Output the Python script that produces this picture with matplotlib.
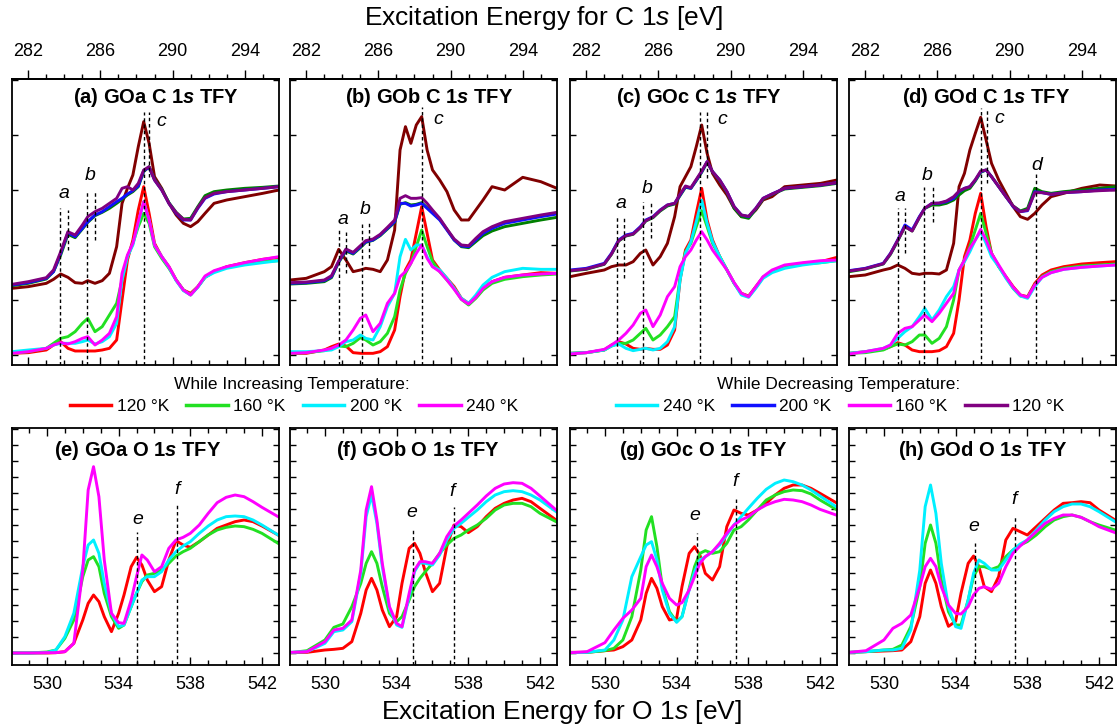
import matplotlib
matplotlib.use('Agg')
import matplotlib.pyplot as plt
from matplotlib.lines import Line2D
from matplotlib.ticker import MultipleLocator, FixedLocator

plt.rcParams['font.family'] = ['Liberation Sans', 'DejaVu Sans']
# $s$ -> bold italic (panel titles), $\mathsf{s}$ -> plain italic (axis titles)
plt.rcParams['mathtext.fontset'] = 'custom'
plt.rcParams['mathtext.rm'] = 'Liberation Sans'
plt.rcParams['mathtext.it'] = 'Liberation Sans:italic:bold'
plt.rcParams['mathtext.sf'] = 'Liberation Sans:italic'
plt.rcParams['mathtext.bf'] = 'Liberation Sans:bold'
plt.rcParams['lines.solid_joinstyle'] = 'round'

# ---------------- C 1s TFY spectra (arb. units) ----------------
E_C = [281.1, 282.0, 283.0, 283.4, 283.8, 284.2, 284.6, 285.0, 285.3, 285.7, 286.1,
       286.5, 286.9, 287.2, 287.5, 287.8, 288.1, 288.4, 288.7, 289.0, 289.4, 289.8,
       290.2, 290.6, 291.0, 291.4, 291.8, 292.3, 293.0, 294.0, 295.0, 295.9]

# GOa
a_red = [5, 7, 15, 30, 40, 20, 12, 12, 12, 12, 15, 20, 45, 165, 285, 345, 435, 505, 425, 335, 295, 265, 225, 195, 185, 205, 233, 250, 265, 277, 287, 293]
a_green = [5, 10, 20, 35, 50, 55, 70, 95, 110, 70, 85, 120, 155, 225, 295, 335, 385, 425, 395, 325, 290, 260, 225, 195, 180, 205, 233, 250, 263, 273, 280, 283]
a_cyan = [10, 15, 20, 30, 35, 35, 35, 40, 45, 33, 40, 55, 95, 225, 295, 330, 395, 460, 405, 330, 295, 263, 223, 193, 180, 203, 233, 247, 260, 270, 277, 283]
a_mag = [5, 10, 20, 30, 37, 33, 40, 50, 55, 30, 45, 65, 115, 245, 300, 335, 400, 460, 405, 330, 295, 265, 225, 195, 180, 205, 237, 253, 265, 277, 287, 295]
a_blue = [210, 217, 230, 250, 305, 367, 355, 380, 400, 420, 430, 445, 460, 470, 483, 493, 507, 553, 563, 525, 495, 455, 425, 405, 405, 440, 470, 483, 490, 495, 500, 505]
a_dgreen = [208, 215, 228, 250, 300, 362, 352, 378, 398, 418, 428, 440, 455, 467, 480, 490, 505, 550, 565, 527, 497, 457, 428, 408, 410, 445, 478, 490, 495, 500, 503, 507]
a_purple = [212, 220, 232, 255, 310, 370, 360, 390, 415, 430, 440, 455, 470, 500, 505, 495, 515, 555, 565, 525, 495, 455, 427, 407, 405, 442, 472, 485, 490, 495, 500, 505]
a_maroon = [200, 205, 215, 227, 243, 233, 217, 215, 223, 215, 223, 245, 325, 455, 500, 540, 625, 700, 635, 535, 500, 455, 420, 395, 385, 400, 425, 455, 465, 475, 485, 495]

# GOb
b_red = [5, 5, 15, 25, 33, 27, 7, 5, 5, 5, 10, 25, 75, 175, 255, 285, 365, 445, 365, 285, 255, 230, 205, 170, 155, 175, 200, 220, 233, 240, 247, 245]
b_green = [5, 7, 13, 20, 27, 25, 35, 52, 45, 30, 40, 65, 115, 195, 245, 275, 325, 375, 325, 280, 250, 225, 200, 167, 150, 170, 195, 215, 227, 235, 240, 243]
b_cyan = [10, 10, 13, 15, 25, 40, 45, 60, 50, 45, 85, 145, 185, 295, 347, 315, 330, 330, 295, 265, 255, 230, 200, 170, 155, 180, 210, 233, 250, 260, 257, 257]
b_mag = [5, 7, 15, 20, 30, 45, 75, 110, 120, 70, 95, 155, 185, 235, 250, 275, 305, 330, 290, 265, 250, 225, 197, 167, 153, 173, 200, 220, 233, 240, 243, 245]
b_blue = [215, 217, 223, 235, 280, 315, 305, 325, 340, 345, 360, 380, 400, 455, 455, 447, 450, 455, 440, 425, 405, 375, 345, 327, 325, 345, 365, 380, 395, 405, 415, 423]
b_dgreen = [213, 215, 220, 232, 278, 312, 303, 322, 338, 344, 358, 378, 398, 452, 457, 450, 452, 457, 442, 427, 407, 377, 345, 325, 322, 340, 358, 372, 385, 395, 405, 413]
b_purple = [217, 219, 225, 238, 282, 318, 308, 328, 343, 348, 362, 383, 405, 470, 478, 470, 470, 472, 455, 435, 410, 378, 348, 330, 328, 350, 370, 385, 400, 410, 420, 428]
b_maroon = [225, 230, 250, 265, 317, 285, 250, 255, 260, 257, 250, 285, 375, 615, 685, 635, 690, 715, 615, 555, 525, 490, 435, 405, 405, 435, 465, 505, 495, 533, 520, 500]

# GOc
c_red = [5, 7, 15, 30, 40, 33, 20, 17, 20, 17, 17, 30, 75, 225, 315, 345, 425, 500, 405, 345, 295, 255, 215, 185, 177, 205, 233, 250, 265, 275, 280, 293]
c_green = [5, 7, 15, 27, 35, 35, 45, 65, 80, 45, 60, 85, 115, 230, 310, 335, 385, 433, 385, 335, 295, 255, 215, 183, 175, 203, 233, 250, 265, 273, 277, 283]
c_cyan = [5, 7, 15, 27, 33, 20, 13, 17, 20, 15, 20, 40, 85, 225, 305, 340, 400, 465, 395, 340, 295, 255, 215, 180, 173, 200, 230, 247, 260, 270, 277, 283]
c_mag = [3, 7, 17, 30, 45, 65, 90, 125, 135, 85, 120, 175, 205, 265, 295, 315, 345, 370, 345, 315, 285, 255, 217, 185, 175, 205, 235, 255, 270, 277, 283, 285]
c_blue = [255, 260, 275, 305, 345, 360, 365, 385, 405, 415, 435, 450, 455, 480, 505, 500, 525, 550, 580, 550, 525, 490, 445, 420, 415, 440, 470, 483, 500, 505, 510, 517]
c_dgreen = [252, 257, 272, 302, 342, 357, 362, 382, 402, 412, 432, 447, 453, 478, 503, 500, 523, 548, 578, 550, 523, 488, 440, 415, 410, 437, 468, 482, 498, 503, 508, 515]
c_purple = [253, 258, 273, 303, 343, 358, 363, 383, 403, 414, 434, 450, 455, 482, 507, 502, 527, 552, 580, 550, 525, 490, 445, 420, 416, 440, 470, 483, 500, 505, 510, 517]
c_maroon = [235, 245, 255, 265, 270, 270, 280, 305, 315, 270, 295, 335, 415, 505, 535, 565, 625, 690, 605, 545, 510, 480, 440, 415, 415, 435, 465, 475, 505, 510, 515, 525]

# GOd
d_red = [5, 10, 17, 25, 37, 30, 15, 10, 10, 10, 13, 25, 65, 165, 295, 345, 425, 485, 385, 305, 265, 235, 205, 180, 175, 215, 240, 255, 265, 273, 277, 280]
d_green = [5, 7, 15, 25, 33, 30, 40, 60, 60, 35, 50, 85, 165, 255, 285, 325, 375, 425, 365, 305, 265, 233, 200, 177, 173, 210, 235, 250, 260, 267, 270, 273]
d_cyan = [5, 10, 20, 30, 50, 70, 85, 115, 140, 105, 135, 175, 205, 255, 280, 310, 345, 370, 335, 295, 265, 230, 200, 177, 170, 205, 233, 247, 257, 263, 267, 270]
d_mag = [3, 10, 20, 30, 65, 80, 85, 105, 120, 100, 125, 155, 185, 255, 285, 320, 345, 377, 345, 305, 270, 235, 203, 180, 173, 210, 233, 247, 257, 263, 267, 270]
d_blue = [253, 260, 275, 305, 345, 390, 375, 415, 440, 455, 455, 460, 470, 490, 500, 505, 525, 550, 555, 535, 505, 475, 445, 430, 433, 490, 487, 482, 487, 490, 495, 497]
d_dgreen = [250, 258, 273, 302, 342, 385, 372, 412, 440, 450, 450, 455, 465, 480, 493, 500, 522, 548, 555, 535, 505, 475, 447, 432, 440, 500, 490, 485, 490, 495, 500, 505]
d_purple = [252, 259, 274, 304, 344, 385, 372, 413, 440, 455, 456, 462, 475, 492, 500, 505, 526, 552, 555, 535, 505, 475, 447, 430, 435, 487, 487, 482, 487, 490, 493, 495]
d_maroon = [235, 240, 255, 260, 270, 260, 245, 242, 245, 245, 243, 255, 335, 505, 545, 615, 665, 713, 645, 575, 525, 485, 445, 415, 407, 425, 450, 475, 485, 500, 510, 507]

# ---------------- O 1s TFY spectra (arb. units) ----------------
E_O = [528.1, 529.0, 530.0, 530.5, 531.0, 531.5, 532.0, 532.3, 532.6, 532.9, 533.2,
       533.6, 534.0, 534.3, 534.7, 535.0, 535.3, 535.6, 536.0, 536.4, 536.8, 537.2,
       537.6, 538.0, 538.5, 539.0, 539.5, 540.0, 540.5, 541.0, 541.5, 542.0, 542.9]

e_red = [0, 0, 0, 1, 4, 29, 99, 149, 174, 154, 109, 64, 119, 174, 259, 287, 264, 219, 184, 199, 279, 337, 324, 317, 334, 354, 374, 384, 394, 399, 394, 381, 354]
e_green = [0, 0, 3, 9, 44, 99, 229, 279, 289, 259, 179, 109, 74, 84, 139, 179, 214, 234, 239, 249, 269, 291, 304, 314, 334, 354, 369, 377, 381, 379, 371, 359, 329]
e_cyan = [0, 0, 1, 9, 49, 119, 259, 324, 339, 299, 209, 119, 79, 84, 139, 179, 219, 229, 229, 244, 279, 304, 321, 334, 359, 381, 399, 409, 411, 409, 399, 384, 354]
e_mag = [0, 0, 1, 1, 4, 29, 249, 489, 559, 469, 279, 119, 91, 89, 159, 229, 294, 279, 244, 259, 314, 339, 347, 359, 384, 419, 451, 467, 474, 469, 454, 437, 409]

f_red = [1, 2, 9, 11, 14, 34, 119, 189, 224, 189, 129, 79, 109, 209, 314, 329, 299, 244, 184, 209, 319, 384, 379, 361, 379, 409, 434, 449, 459, 464, 454, 434, 399]
f_green = [1, 7, 39, 77, 87, 139, 209, 269, 304, 269, 199, 119, 94, 109, 159, 199, 224, 244, 269, 299, 324, 344, 354, 369, 384, 404, 429, 444, 449, 449, 439, 419, 394]
f_cyan = [2, 4, 29, 64, 69, 94, 239, 409, 474, 389, 259, 134, 84, 77, 169, 244, 271, 269, 264, 294, 339, 374, 389, 407, 429, 454, 474, 484, 487, 484, 474, 459, 424]
f_mag = [2, 4, 34, 69, 74, 99, 249, 429, 499, 399, 269, 139, 89, 79, 179, 249, 274, 274, 269, 299, 349, 381, 399, 419, 444, 471, 494, 507, 511, 509, 494, 471, 429]

g_red = [2, 2, 7, 9, 19, 39, 99, 179, 224, 194, 139, 99, 104, 199, 299, 319, 294, 239, 219, 259, 379, 429, 419, 414, 429, 449, 474, 494, 504, 504, 494, 479, 451]
g_green = [1, 2, 7, 14, 39, 109, 249, 369, 409, 319, 199, 124, 94, 109, 194, 259, 299, 307, 299, 304, 329, 369, 379, 399, 429, 459, 474, 484, 489, 487, 477, 459, 431]
g_cyan = [1, 2, 9, 39, 99, 229, 289, 324, 334, 279, 189, 119, 92, 109, 189, 244, 279, 289, 304, 324, 354, 384, 409, 434, 464, 491, 509, 519, 514, 504, 489, 471, 439]
g_mag = [1, 4, 31, 69, 104, 129, 164, 259, 294, 259, 209, 164, 144, 151, 189, 229, 269, 289, 304, 329, 359, 384, 399, 409, 429, 444, 454, 461, 459, 454, 444, 431, 414]

h_red = [2, 4, 6, 7, 9, 34, 109, 209, 249, 209, 139, 80, 95, 179, 269, 291, 259, 199, 184, 229, 339, 374, 364, 354, 379, 404, 429, 449, 451, 454, 451, 429, 399]
h_green = [2, 4, 9, 11, 24, 79, 199, 329, 384, 329, 219, 124, 84, 84, 159, 229, 259, 259, 251, 259, 289, 309, 324, 334, 354, 379, 399, 409, 414, 407, 394, 384, 369]
h_cyan = [2, 4, 9, 9, 14, 69, 249, 439, 504, 419, 269, 139, 79, 74, 159, 239, 279, 269, 249, 249, 279, 309, 327, 339, 369, 399, 424, 439, 447, 447, 439, 424, 394]
h_mag = [2, 7, 39, 74, 89, 114, 199, 259, 284, 259, 199, 144, 119, 117, 139, 174, 194, 199, 191, 209, 259, 299, 321, 339, 364, 389, 404, 414, 414, 407, 394, 379, 361]

# peak markers: energy, top of dotted line, bottom of dotted line
a_marks = [(283.77, 440, -30), (284.19, 435, 315), (285.25, 490, -30), (285.71, 490, 345), (288.40, 730, -30), (288.71, 730, 535)]
b_marks = [(283.83, 375, -30), (284.19, 375, 245), (285.11, 400, -30), (285.50, 400, 290), (288.40, 745, -30)]
c_marks = [(283.72, 415, -30), (284.11, 415, 230), (285.17, 460, -30), (285.57, 460, 350), (288.31, 730, -30), (288.69, 730, 530)]
d_marks = [(283.79, 440, -30), (284.21, 440, 305), (285.27, 505, -30), (285.73, 505, 400), (288.41, 740, -30), (288.75, 740, 515), (291.47, 545, -30)]
e_marks = [(535.04, 364, -36), (537.26, 444, -36)]
f_marks = [(534.89, 374, -36), (537.20, 437, -36)]
g_marks = [(535.12, 359, -36), (537.32, 469, -36)]
h_marks = [(535.10, 329, -36), (537.33, 414, -36)]

a_letters = [('a', 283.99, 485), ('b', 285.43, 540), ('c', 289.36, 700)]
b_letters = [('a', 284.06, 405), ('b', 285.26, 435), ('c', 289.33, 705)]
c_letters = [('a', 283.91, 455), ('b', 285.35, 500), ('c', 289.52, 705)]
d_letters = [('a', 283.93, 475), ('b', 285.45, 540), ('c', 289.43, 710), ('d', 291.53, 570)]
e_letters = [('e', 535.06, 399), ('f', 537.26, 489)]
f_letters = [('e', 534.87, 421), ('f', 537.07, 484)]
g_letters = [('e', 534.99, 414), ('f', 537.26, 514)]
h_letters = [('e', 535.01, 379), ('f', 537.24, 459)]

samples = ['GOa', 'GOb', 'GOc', 'GOd']
tags_c = ['(a)', '(b)', '(c)', '(d)']
tags_o = ['(e)', '(f)', '(g)', '(h)']

inc_labels = ['120 °K', '160 °K', '200 °K', '240 °K']
dec_labels = ['240 °K', '200 °K', '160 °K', '120 °K']

# colours
RED, GREEN, CYAN, MAG = '#ff0000', '#22e022', '#00f0ff', '#ff00ff'
BLUE, DGREEN, PURPLE, MAROON = '#1010ff', '#008000', '#800080', '#800000'

c_sets = [
    (a_red, a_green, a_cyan, a_mag, a_maroon, a_dgreen, a_blue, a_purple),
    (b_red, b_green, b_cyan, b_mag, b_maroon, b_dgreen, b_blue, b_purple),
    (c_red, c_green, c_cyan, c_mag, c_maroon, c_dgreen, c_blue, c_purple),
    (d_red, d_green, d_cyan, d_mag, d_maroon, d_dgreen, d_blue, d_purple),
]
c_colors = [RED, GREEN, CYAN, MAG, MAROON, DGREEN, BLUE, PURPLE]
o_sets = [
    (e_red, e_green, e_cyan, e_mag),
    (f_red, f_green, f_cyan, f_mag),
    (g_red, g_green, g_cyan, g_mag),
    (h_red, h_green, h_cyan, h_mag),
]
o_colors = [RED, GREEN, CYAN, MAG]
c_marks = [a_marks, b_marks, c_marks, d_marks]
o_marks = [e_marks, f_marks, g_marks, h_marks]
c_letters_all = [a_letters, b_letters, c_letters, d_letters]
o_letters_all = [e_letters, f_letters, g_letters, h_letters]

# ---------------- figure layout (pixels) ----------------
W, H = 1117, 725
fig = plt.figure(figsize=(W / 100, H / 100), dpi=100)
lefts = [12, 290, 570, 849]
pw = 267
title_x_c = [0.54, 0.52, 0.485, 0.515]
title_x_o = [0.47, 0.478, 0.50, 0.50]


def frame(ax):
    for s in ax.spines.values():
        s.set_linewidth(1.3)
    ax.tick_params(axis='y', which='both', direction='in', left=True, right=True,
                   labelleft=False, length=4, width=1)


for k in range(4):
    # upper row: C 1s
    ax = fig.add_axes([lefts[k] / W, 1 - 365 / H, pw / W, 286 / H])
    for ys, col in zip(c_sets[k], c_colors):
        ax.plot(E_C, ys, color=col, lw=2.1)
    for x, y0, y1 in c_marks[k]:
        ax.plot([x, x], [y1, y0], color='black', lw=1, ls=(0, (2.5, 2)))
    for t, x, y in c_letters_all[k]:
        ax.text(x, y, t, style='italic', fontsize=14, ha='center', va='center')
    ax.set_xlim(281.1, 295.9)
    ax.set_ylim(-30, 828)
    frame(ax)
    ax.yaxis.set_major_locator(MultipleLocator(165))
    ax.xaxis.set_major_locator(FixedLocator([282, 286, 290, 294]))
    ax.xaxis.set_minor_locator(MultipleLocator(1))
    ax.tick_params(axis='x', which='both', direction='in', top=False, bottom=True,
                   labelbottom=False, width=1)
    ax.tick_params(axis='x', which='major', length=6)
    ax.tick_params(axis='x', which='minor', length=3.5)
    sec = ax.secondary_xaxis('top')
    sec.xaxis.set_major_locator(FixedLocator([282, 286, 290, 294]))
    sec.xaxis.set_minor_locator(MultipleLocator(1))
    sec.tick_params(axis='x', which='both', direction='out', width=1, labelsize=13, pad=7.5)
    sec.tick_params(axis='x', which='major', length=6.5)
    sec.tick_params(axis='x', which='minor', length=3.6)
    sec.spines['top'].set_linewidth(1.3)
    ax.text(title_x_c[k], 0.937, tags_c[k] + ' ' + samples[k] + r' C 1$s$ TFY',
            transform=ax.transAxes, ha='center', va='center', fontsize=14.5, fontweight='bold')

    # lower row: O 1s
    bx = fig.add_axes([lefts[k] / W, 1 - 665 / H, pw / W, 237 / H])
    for ys, col in zip(o_sets[k], o_colors):
        bx.plot(E_O, ys, color=col, lw=2.1)
    for x, y0, y1 in o_marks[k]:
        bx.plot([x, x], [y1, y0], color='black', lw=1, ls=(0, (2.5, 2)))
    for t, x, y in o_letters_all[k]:
        bx.text(x, y, t, style='italic', fontsize=14, ha='center', va='center')
    bx.set_xlim(528.05, 542.95)
    bx.set_ylim(-36, 675)
    frame(bx)
    bx.yaxis.set_major_locator(MultipleLocator(48))
    bx.xaxis.set_major_locator(FixedLocator([530, 534, 538, 542]))
    bx.xaxis.set_minor_locator(MultipleLocator(1))
    bx.tick_params(axis='x', which='both', direction='in', top=True, bottom=True,
                   width=1, labelsize=13, pad=8)
    bx.tick_params(axis='x', which='major', length=6)
    bx.tick_params(axis='x', which='minor', length=3.5)
    bx.text(title_x_o[k], 0.907, tags_o[k] + ' ' + samples[k] + r' O 1$s$ TFY',
            transform=bx.transAxes, ha='center', va='center', fontsize=14.5, fontweight='bold')

# axis titles
fig.text(544 / W, 1 - 18 / H, r'Excitation Energy for C 1$\mathsf{s}$ [eV]', ha='center', va='center', fontsize=19)
fig.text(561 / W, 1 - 712 / H, r'Excitation Energy for O 1$\mathsf{s}$ [eV]', ha='center', va='center', fontsize=19)

# legends
leg_kw = dict(ncol=4, loc='center', frameon=False, fontsize=12.5, handlelength=2.4,
              handletextpad=0.3, columnspacing=1.0, borderpad=0, borderaxespad=0)
inc_handles = [Line2D([], [], color=c, lw=2.5) for c in [RED, GREEN, CYAN, MAG]]
dec_handles = [Line2D([], [], color=c, lw=2.5) for c in [CYAN, BLUE, MAG, PURPLE]]
fig.legend(inc_handles, inc_labels, bbox_to_anchor=(294 / W, 1 - 406 / H), **leg_kw)
fig.legend(dec_handles, dec_labels, bbox_to_anchor=(840 / W, 1 - 406 / H), **leg_kw)
fig.text(292 / W, 1 - 384 / H, 'While Increasing Temperature:', ha='center', va='center', fontsize=12.5)
fig.text(839 / W, 1 - 384 / H, 'While Decreasing Temperature:', ha='center', va='center', fontsize=12.5)

fig.savefig('out.png', dpi=100)
